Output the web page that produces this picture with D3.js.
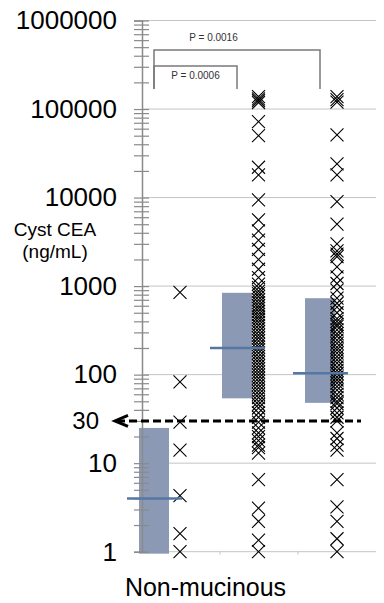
<!DOCTYPE html>
<html>
<head>
<meta charset="utf-8">
<script src="https://cdn.jsdelivr.net/npm/d3@7"></script>
<style>
  body { margin: 0; background: #fff; }
  svg { display: block; font-family: "Liberation Sans", Arial, sans-serif; }
</style>
</head>
<body>
<script>
// groups (only the first one is labelled in the figure)
const groups = ['Non-mucinous', 'group2', 'group3'];

// individual cyst CEA values (ng/mL)
const pointsG1 = [850, 83, 29, 14, 4.3, 1.6, 1];
const pointsG2 = [138000, 130000, 124000, 118000, 72000, 50000, 22000, 18000, 9400,
  5600, 4200, 3300, 2600, 2000, 1550, 1250,
  1050, 960, 880, 820, 760, 700, 650, 600, 560, 520, 480, 450, 420, 390, 360, 330,
  305, 280, 260, 240, 220, 205, 190, 175, 160, 148, 137, 126, 116, 107, 99, 91, 84,
  77, 71, 65, 60, 55, 50, 46, 42, 37, 33, 29, 25, 22, 20, 18, 16, 15, 13,
  6.5, 3.1, 2.2, 1.35, 1];
const pointsG3 = [138000, 128000, 120000, 51000, 24000, 18000, 9000, 5000,
  3000, 2500, 2300, 2150, 1650, 1270, 1070, 900, 730, 640, 580, 500, 430, 400, 370,
  350, 320, 290, 270, 245, 225, 205, 190, 175, 160, 147, 135, 122, 112, 103, 94, 87,
  80, 73, 67, 60, 55, 50, 47, 42, 37, 33, 30, 22, 19, 16, 14,
  6.5, 3.2, 2.2, 1.4, 1];

// interquartile boxes and medians
const boxLow = [0.95, 54, 48];
const boxHigh = [25, 840, 730];
const medians = [4, 200, 104];

const majorTicks = [1, 10, 100, 1000, 10000, 100000, 1000000];
const cutoff = 30;
const pLabels = ['P = 0.0006', 'P = 0.0016'];

const W = 384, H = 603;
const svg = d3.select('body').append('svg').attr('width', W).attr('height', H);

const y = d3.scaleLog().domain([1, 1e6]).range([551.7, 20.5]);
const cat = d3.scaleBand().domain(d3.range(groups.length)).range([142, 376]);
const barX = d3.scaleLinear().domain([0, 2]).range([154, 320]);
const crossX = d3.scaleLinear().domain([0, 2]).range([180, 337]);

// gridlines
svg.append('g')
  .selectAll('line')
  .data(majorTicks)
  .join('line')
  .attr('x1', 142).attr('x2', 376)
  .attr('y1', (d) => y(d)).attr('y2', (d) => y(d))
  .attr('stroke', '#c4c4c4').attr('stroke-width', 1);

// category ticks on the base line
svg.append('g')
  .selectAll('line')
  .data([1, 2])
  .join('line')
  .attr('x1', (d) => cat(d)).attr('x2', (d) => cat(d))
  .attr('y1', y(1)).attr('y2', y(1) + 3)
  .attr('stroke', '#c4c4c4');

// boxes
svg.append('g')
  .selectAll('rect')
  .data(groups)
  .join('rect')
  .attr('x', (d, i) => barX(i) - 15)
  .attr('width', 30)
  .attr('y', (d, i) => y(boxHigh[i]))
  .attr('height', (d, i) => y(boxLow[i]) - y(boxHigh[i]))
  .attr('fill', '#8c99b4');

// y axis with log ticks crossing the axis line
let allTicks = [];
for (let e = 0; e < 6; e++) {
  for (let m = 1; m < 10; m++) allTicks.push(m * Math.pow(10, e));
}
allTicks.push(1e6);
const axis = svg.append('g')
  .attr('transform', 'translate(142,0)')
  .call(d3.axisLeft(y).tickValues(allTicks).tickSize(8).tickFormat(''));
axis.select('.domain').attr('stroke', '#8a8a8a').attr('stroke-width', 1.5);
axis.selectAll('.tick line').attr('x1', 7).attr('x2', -8).attr('stroke', '#8a8a8a').attr('stroke-width', 1.2);

// axis labels
const labels = svg.append('g')
  .attr('transform', 'translate(142,0)')
  .call(d3.axisLeft(y).tickValues(majorTicks).tickSize(0).tickPadding(25).tickFormat(d3.format('d')));
labels.select('.domain').remove();
labels.selectAll('text')
  .attr('font-size', 26)
  .attr('font-family', '"Liberation Sans", Arial, sans-serif')
  .attr('fill', '#000');

// crosses
const allPoints = [pointsG1, pointsG2, pointsG3];
const r = 6.5;
allPoints.forEach((pts, i) => {
  svg.append('g')
    .selectAll('path')
    .data(pts)
    .join('path')
    .attr('d', (d) => {
      const cx = crossX(i), cy = y(d);
      return `M${cx - r},${cy - r}L${cx + r},${cy + r}M${cx - r},${cy + r}L${cx + r},${cy - r}`;
    })
    .attr('stroke', '#000')
    .attr('stroke-width', 1.1)
    .attr('fill', 'none');
});

// medians
svg.append('g')
  .selectAll('line')
  .data(medians)
  .join('line')
  .attr('x1', (d, i) => barX(i) - 27).attr('x2', (d, i) => barX(i) + 28)
  .attr('y1', (d) => y(d)).attr('y2', (d) => y(d))
  .attr('stroke', '#5577a3').attr('stroke-width', 2.5);

// 30 ng/mL cut-off
const yc = y(cutoff);
svg.append('line')
  .attr('x1', 117).attr('x2', 361)
  .attr('y1', yc).attr('y2', yc)
  .attr('stroke', '#000').attr('stroke-width', 3)
  .attr('stroke-dasharray', '8,4');
svg.append('path')
  .attr('d', `M128,${yc - 5.5}L115,${yc}L128,${yc + 5.5}`)
  .attr('fill', 'none').attr('stroke', '#000').attr('stroke-width', 3);
svg.append('text')
  .attr('x', 99).attr('y', yc).attr('dy', '0.35em')
  .attr('text-anchor', 'end').attr('font-size', 24)
  .text(cutoff);

// significance brackets
const bracket = [
  { to: 1, top: 66, label: pLabels[0], lx: 195.5, ly: 78.5 },
  { to: 2, top: 50, label: pLabels[1], lx: 213.5, ly: 40.5 },
];
bracket.forEach((b) => {
  svg.append('path')
    .attr('d', `M${barX(0)},89V${b.top}H${barX(b.to)}V89`)
    .attr('fill', 'none').attr('stroke', '#7a7a7a').attr('stroke-width', 1.5);
  svg.append('text')
    .attr('x', b.lx).attr('y', b.ly)
    .attr('text-anchor', 'middle').attr('font-size', 10).attr('fill', '#333')
    .text(b.label);
});

// titles
svg.append('text')
  .attr('x', 55).attr('y', 236)
  .attr('text-anchor', 'middle').attr('font-size', 19)
  .text('Cyst CEA');
svg.append('text')
  .attr('x', 55).attr('y', 258)
  .attr('text-anchor', 'middle').attr('font-size', 19)
  .text('(ng/mL)');
svg.append('text')
  .attr('x', 205.5).attr('y', 596)
  .attr('text-anchor', 'middle').attr('font-size', 25)
  .text(groups[0]);
</script>
</body>
</html>
